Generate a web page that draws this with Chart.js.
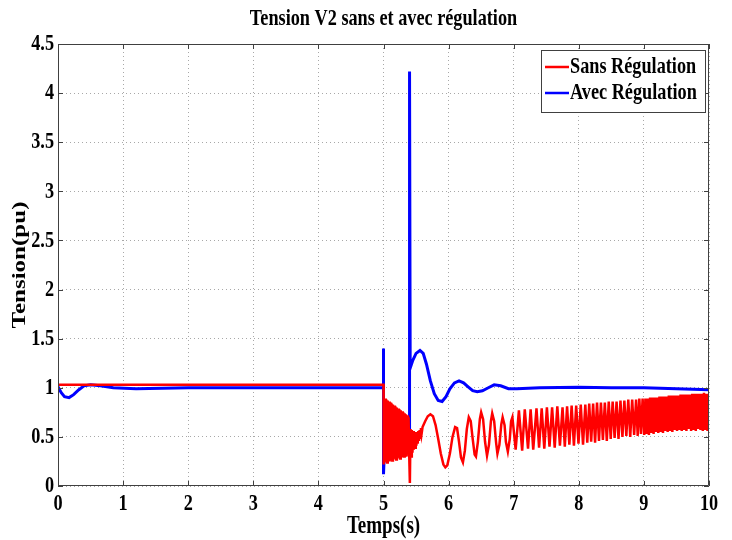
<!DOCTYPE html>
<html>
<head>
<meta charset="utf-8">
<script src="https://cdn.jsdelivr.net/npm/chart.js@4/dist/chart.umd.min.js"></script>
<style>
  html, body { margin: 0; padding: 0; background: #ffffff; }
  #wrap { width: 732px; height: 540px; }
</style>
</head>
<body>
<div id="wrap"><canvas id="c" width="732" height="540"></canvas></div>
<script>
// Axis ticks
const xTicks = [0, 1, 2, 3, 4, 5, 6, 7, 8, 9, 10];
const yTicks = [0, 0.5, 1, 1.5, 2, 2.5, 3, 3.5, 4, 4.5];

// Texts
const chartTitle = 'Tension V2 sans et avec régulation';
const xTitle = 'Temps(s)';
const yTitle = 'Tension(pu)';
const seriesNames = ['Sans Régulation', 'Avec Régulation'];

// Voltage without regulation: [time s, voltage pu]
const redSteady = [[0, 1.03], [5.0, 1.03], [5.0, 0.22]];
const redFault = [
  [5.005, 0.90], [5.015, 0.24], [5.025, 0.89], [5.035, 0.25], [5.045, 0.88], [5.055, 0.24],
  [5.065, 0.87], [5.075, 0.26], [5.085, 0.86], [5.095, 0.25], [5.105, 0.85], [5.115, 0.27],
  [5.125, 0.84], [5.135, 0.26], [5.145, 0.83], [5.155, 0.27], [5.165, 0.82], [5.175, 0.28],
  [5.185, 0.81], [5.195, 0.27], [5.205, 0.80], [5.215, 0.28], [5.225, 0.79], [5.235, 0.29],
  [5.245, 0.78], [5.255, 0.28], [5.265, 0.77], [5.275, 0.30], [5.285, 0.76], [5.295, 0.29],
  [5.305, 0.75], [5.315, 0.30], [5.325, 0.74], [5.335, 0.31], [5.345, 0.73], [5.355, 0.30],
  [5.365, 0.72], [5.375, 0.32], [5.385, 0.70], [5.395, 0.31]
];
const redRecovery = [
  [5.405, 0.03], [5.415, 0.58], [5.425, 0.30], [5.435, 0.57], [5.445, 0.34], [5.455, 0.56],
  [5.465, 0.37], [5.475, 0.55], [5.485, 0.39], [5.495, 0.55], [5.505, 0.41], [5.515, 0.55],
  [5.525, 0.43], [5.535, 0.56], [5.545, 0.46], [5.555, 0.57], [5.565, 0.49], [5.575, 0.59],
  [5.585, 0.53], [5.60, 0.60], [5.64, 0.66], [5.68, 0.71], [5.72, 0.73], [5.76, 0.71],
  [5.80, 0.62], [5.84, 0.48], [5.88, 0.33], [5.92, 0.22], [5.95, 0.19], [5.98, 0.21],
  [6.02, 0.33], [6.06, 0.50], [6.10, 0.60], [6.13, 0.59], [6.16, 0.45], [6.19, 0.29],
  [6.22, 0.24], [6.25, 0.36], [6.28, 0.58], [6.31, 0.70], [6.34, 0.66], [6.37, 0.48],
  [6.40, 0.32], [6.42, 0.30], [6.45, 0.45], [6.48, 0.68], [6.50, 0.75], [6.53, 0.68],
  [6.56, 0.45], [6.59, 0.31], [6.62, 0.42], [6.65, 0.66], [6.67, 0.74], [6.70, 0.66],
  [6.73, 0.44], [6.75, 0.33], [6.78, 0.42], [6.81, 0.63], [6.83, 0.70], [6.86, 0.62],
  [6.88, 0.45], [6.91, 0.35], [6.94, 0.48], [6.96, 0.66], [6.98, 0.70]
];
const redOscillation = [
  [7.03, 0.37], [7.08, 0.77], [7.13, 0.36], [7.17, 0.78], [7.22, 0.38], [7.26, 0.78],
  [7.30, 0.37], [7.35, 0.79], [7.39, 0.39], [7.43, 0.79], [7.47, 0.38], [7.51, 0.80],
  [7.55, 0.40], [7.59, 0.80], [7.63, 0.39], [7.67, 0.81], [7.71, 0.41], [7.75, 0.80],
  [7.785, 0.40], [7.82, 0.81], [7.855, 0.42], [7.89, 0.82], [7.925, 0.41], [7.96, 0.82],
  [7.995, 0.43], [8.03, 0.83], [8.065, 0.42], [8.10, 0.83], [8.13, 0.44], [8.16, 0.84],
  [8.19, 0.45], [8.22, 0.84], [8.25, 0.44], [8.28, 0.85], [8.31, 0.46], [8.34, 0.85],
  [8.37, 0.47], [8.40, 0.85], [8.43, 0.46], [8.46, 0.86], [8.49, 0.48], [8.52, 0.86],
  [8.55, 0.49], [8.58, 0.86], [8.61, 0.48], [8.64, 0.87], [8.67, 0.50], [8.70, 0.87],
  [8.73, 0.51], [8.76, 0.88], [8.79, 0.50], [8.82, 0.88], [8.85, 0.52], [8.88, 0.88],
  [8.905, 0.51], [8.93, 0.89], [8.955, 0.53], [8.98, 0.89]
];
const redLate = [
  [9.005, 0.52], [9.023, 0.89], [9.041, 0.53], [9.059, 0.89], [9.077, 0.52], [9.095, 0.90],
  [9.113, 0.54], [9.131, 0.90], [9.149, 0.53], [9.167, 0.90], [9.185, 0.55], [9.203, 0.90],
  [9.221, 0.54], [9.239, 0.91], [9.257, 0.55], [9.275, 0.91], [9.293, 0.54], [9.311, 0.91],
  [9.329, 0.56], [9.347, 0.91], [9.365, 0.55], [9.383, 0.92], [9.401, 0.56], [9.419, 0.92],
  [9.437, 0.55], [9.455, 0.92], [9.473, 0.57], [9.491, 0.92], [9.509, 0.56], [9.527, 0.92],
  [9.545, 0.57], [9.563, 0.93], [9.581, 0.56], [9.599, 0.93], [9.617, 0.57], [9.635, 0.93],
  [9.653, 0.56], [9.671, 0.93], [9.689, 0.58], [9.707, 0.93], [9.725, 0.56], [9.743, 0.94],
  [9.761, 0.57], [9.779, 0.94], [9.797, 0.56], [9.815, 0.94], [9.833, 0.58], [9.851, 0.94],
  [9.869, 0.57], [9.887, 0.94], [9.905, 0.56], [9.923, 0.95], [9.941, 0.57], [9.959, 0.94],
  [9.977, 0.56], [9.995, 0.94]
];

// Voltage with regulation: [time s, voltage pu]
const blueSteady = [
  [0, 1.01], [0.05, 0.95], [0.10, 0.91], [0.17, 0.90], [0.24, 0.93], [0.32, 0.98],
  [0.40, 1.02], [0.50, 1.03], [0.65, 1.02], [0.85, 1.00], [1.2, 0.99], [1.6, 0.995],
  [2.0, 1.0], [3.0, 1.0], [4.0, 1.0], [5.0, 1.0]
];
const blueFault = [
  [5.0, 1.40], [5.0, 0.12], [5.01, 0.29], [5.40, 0.41], [5.40, 4.22], [5.41, 1.20]
];
const blueRecovery = [
  [5.45, 1.28], [5.50, 1.35], [5.56, 1.38], [5.61, 1.35], [5.66, 1.24], [5.72, 1.07],
  [5.78, 0.94], [5.84, 0.87], [5.90, 0.86], [5.96, 0.91], [6.02, 0.99], [6.09, 1.05],
  [6.16, 1.07], [6.23, 1.05], [6.30, 1.01], [6.37, 0.97], [6.44, 0.96], [6.52, 0.97],
  [6.61, 1.00], [6.70, 1.03], [6.80, 1.02], [6.92, 0.99], [7.05, 0.99], [7.4, 1.0],
  [8.0, 1.005], [8.5, 1.0], [9.0, 1.0], [9.5, 0.99], [10.0, 0.98]
];

const toPoints = (rows) => rows.map(([x, y]) => ({ x, y }));
const redPoints = toPoints([...redSteady, ...redFault, ...redRecovery, ...redOscillation, ...redLate]);
const bluePoints = toPoints([...blueSteady, ...blueFault, ...blueRecovery]);

const RED = '#ff0000';
const BLUE = '#0000ff';
const FONT = '"Liberation Serif", "Times New Roman", serif';
const SQUEEZE = 0.76; // narrow, tall bold serif lettering

// Text is narrowed horizontally in page coordinates, so rotated text keeps its length
function drawText(ctx, s, x, y, size, align, rot) {
  ctx.save();
  ctx.translate(x, y);
  ctx.scale(SQUEEZE, 1);
  if (rot) ctx.rotate(rot);
  ctx.font = 'bold ' + size + 'px ' + FONT;
  ctx.fillStyle = '#000000';
  ctx.textAlign = align;
  ctx.textBaseline = 'middle';
  ctx.fillText(s, 0, 0);
  ctx.restore();
}

// Frame, inward tick marks, tick labels, titles and the boxed legend
const figureDecor = {
  id: 'figureDecor',
  afterDatasetsDraw(chart) {
    const { ctx, chartArea: a, scales } = chart;
    const xs = scales.x, ys = scales.y;

    ctx.save();
    ctx.strokeStyle = '#404040';
    ctx.lineWidth = 1;
    ctx.beginPath();
    ctx.rect(a.left + 0.5, a.top + 0.5, a.right - a.left - 1, a.bottom - a.top - 1);
    ctx.stroke();

    const tl = 5;
    ctx.beginPath();
    xTicks.forEach(v => {
      const px = Math.round(xs.getPixelForValue(v)) + 0.5;
      ctx.moveTo(px, a.bottom); ctx.lineTo(px, a.bottom - tl);
      ctx.moveTo(px, a.top); ctx.lineTo(px, a.top + tl);
    });
    yTicks.forEach(v => {
      const py = Math.round(ys.getPixelForValue(v)) + 0.5;
      ctx.moveTo(a.left, py); ctx.lineTo(a.left + tl, py);
      ctx.moveTo(a.right, py); ctx.lineTo(a.right - tl, py);
    });
    ctx.stroke();
    ctx.restore();

    xTicks.forEach(v => drawText(ctx, String(v), xs.getPixelForValue(v), a.bottom + 18, 24, 'center'));
    yTicks.forEach(v => drawText(ctx, String(v), a.left - 4, ys.getPixelForValue(v), 24, 'right'));

    const cx = (a.left + a.right) / 2;
    drawText(ctx, chartTitle, cx, 19, 24, 'center');
    drawText(ctx, xTitle, cx, 527, 25, 'center');
    drawText(ctx, yTitle, 20, (a.top + a.bottom) / 2, 25, 'center', -Math.PI / 2);

    // legend
    const lx = 541, ly = 50, lw = 164, lh = 62;
    ctx.save();
    ctx.fillStyle = '#ffffff';
    ctx.fillRect(lx, ly, lw, lh);
    ctx.strokeStyle = '#404040';
    ctx.lineWidth = 1;
    ctx.strokeRect(lx + 0.5, ly + 0.5, lw, lh);
    const rows = [{ c: RED, y: ly + 17 }, { c: BLUE, y: ly + 43 }];
    rows.forEach((r, i) => {
      ctx.strokeStyle = r.c;
      ctx.lineWidth = 2.5;
      ctx.beginPath();
      ctx.moveTo(lx + 4, r.y); ctx.lineTo(lx + 28, r.y);
      ctx.stroke();
      drawText(ctx, seriesNames[i], lx + 29, r.y, 24, 'left');
    });
    ctx.restore();
  }
};

new Chart(document.getElementById('c'), {
  type: 'line',
  data: {
    datasets: [
      { label: seriesNames[0], data: redPoints, borderColor: RED, borderWidth: 2.5, pointRadius: 0, tension: 0, fill: false },
      { label: seriesNames[1], data: bluePoints, borderColor: BLUE, borderWidth: 3, pointRadius: 0, tension: 0, fill: false }
    ]
  },
  options: {
    responsive: false,
    animation: false,
    layout: { padding: { left: 58, right: 23, top: 44, bottom: 54 } },
    plugins: { legend: { display: false }, title: { display: false }, tooltip: { enabled: false } },
    scales: {
      x: {
        type: 'linear', min: 0, max: 10,
        afterBuildTicks: (s) => { s.ticks = xTicks.map(v => ({ value: v })); },
        ticks: { display: false },
        grid: { color: '#a8a8a8', lineWidth: 1, drawTicks: false },
        border: { display: false, dash: [1, 3] }
      },
      y: {
        type: 'linear', min: 0, max: 4.5,
        afterBuildTicks: (s) => { s.ticks = yTicks.map(v => ({ value: v })); },
        ticks: { display: false },
        grid: { color: '#a8a8a8', lineWidth: 1, drawTicks: false },
        border: { display: false, dash: [1, 3] }
      }
    }
  },
  plugins: [figureDecor]
});
</script>
</body>
</html>
